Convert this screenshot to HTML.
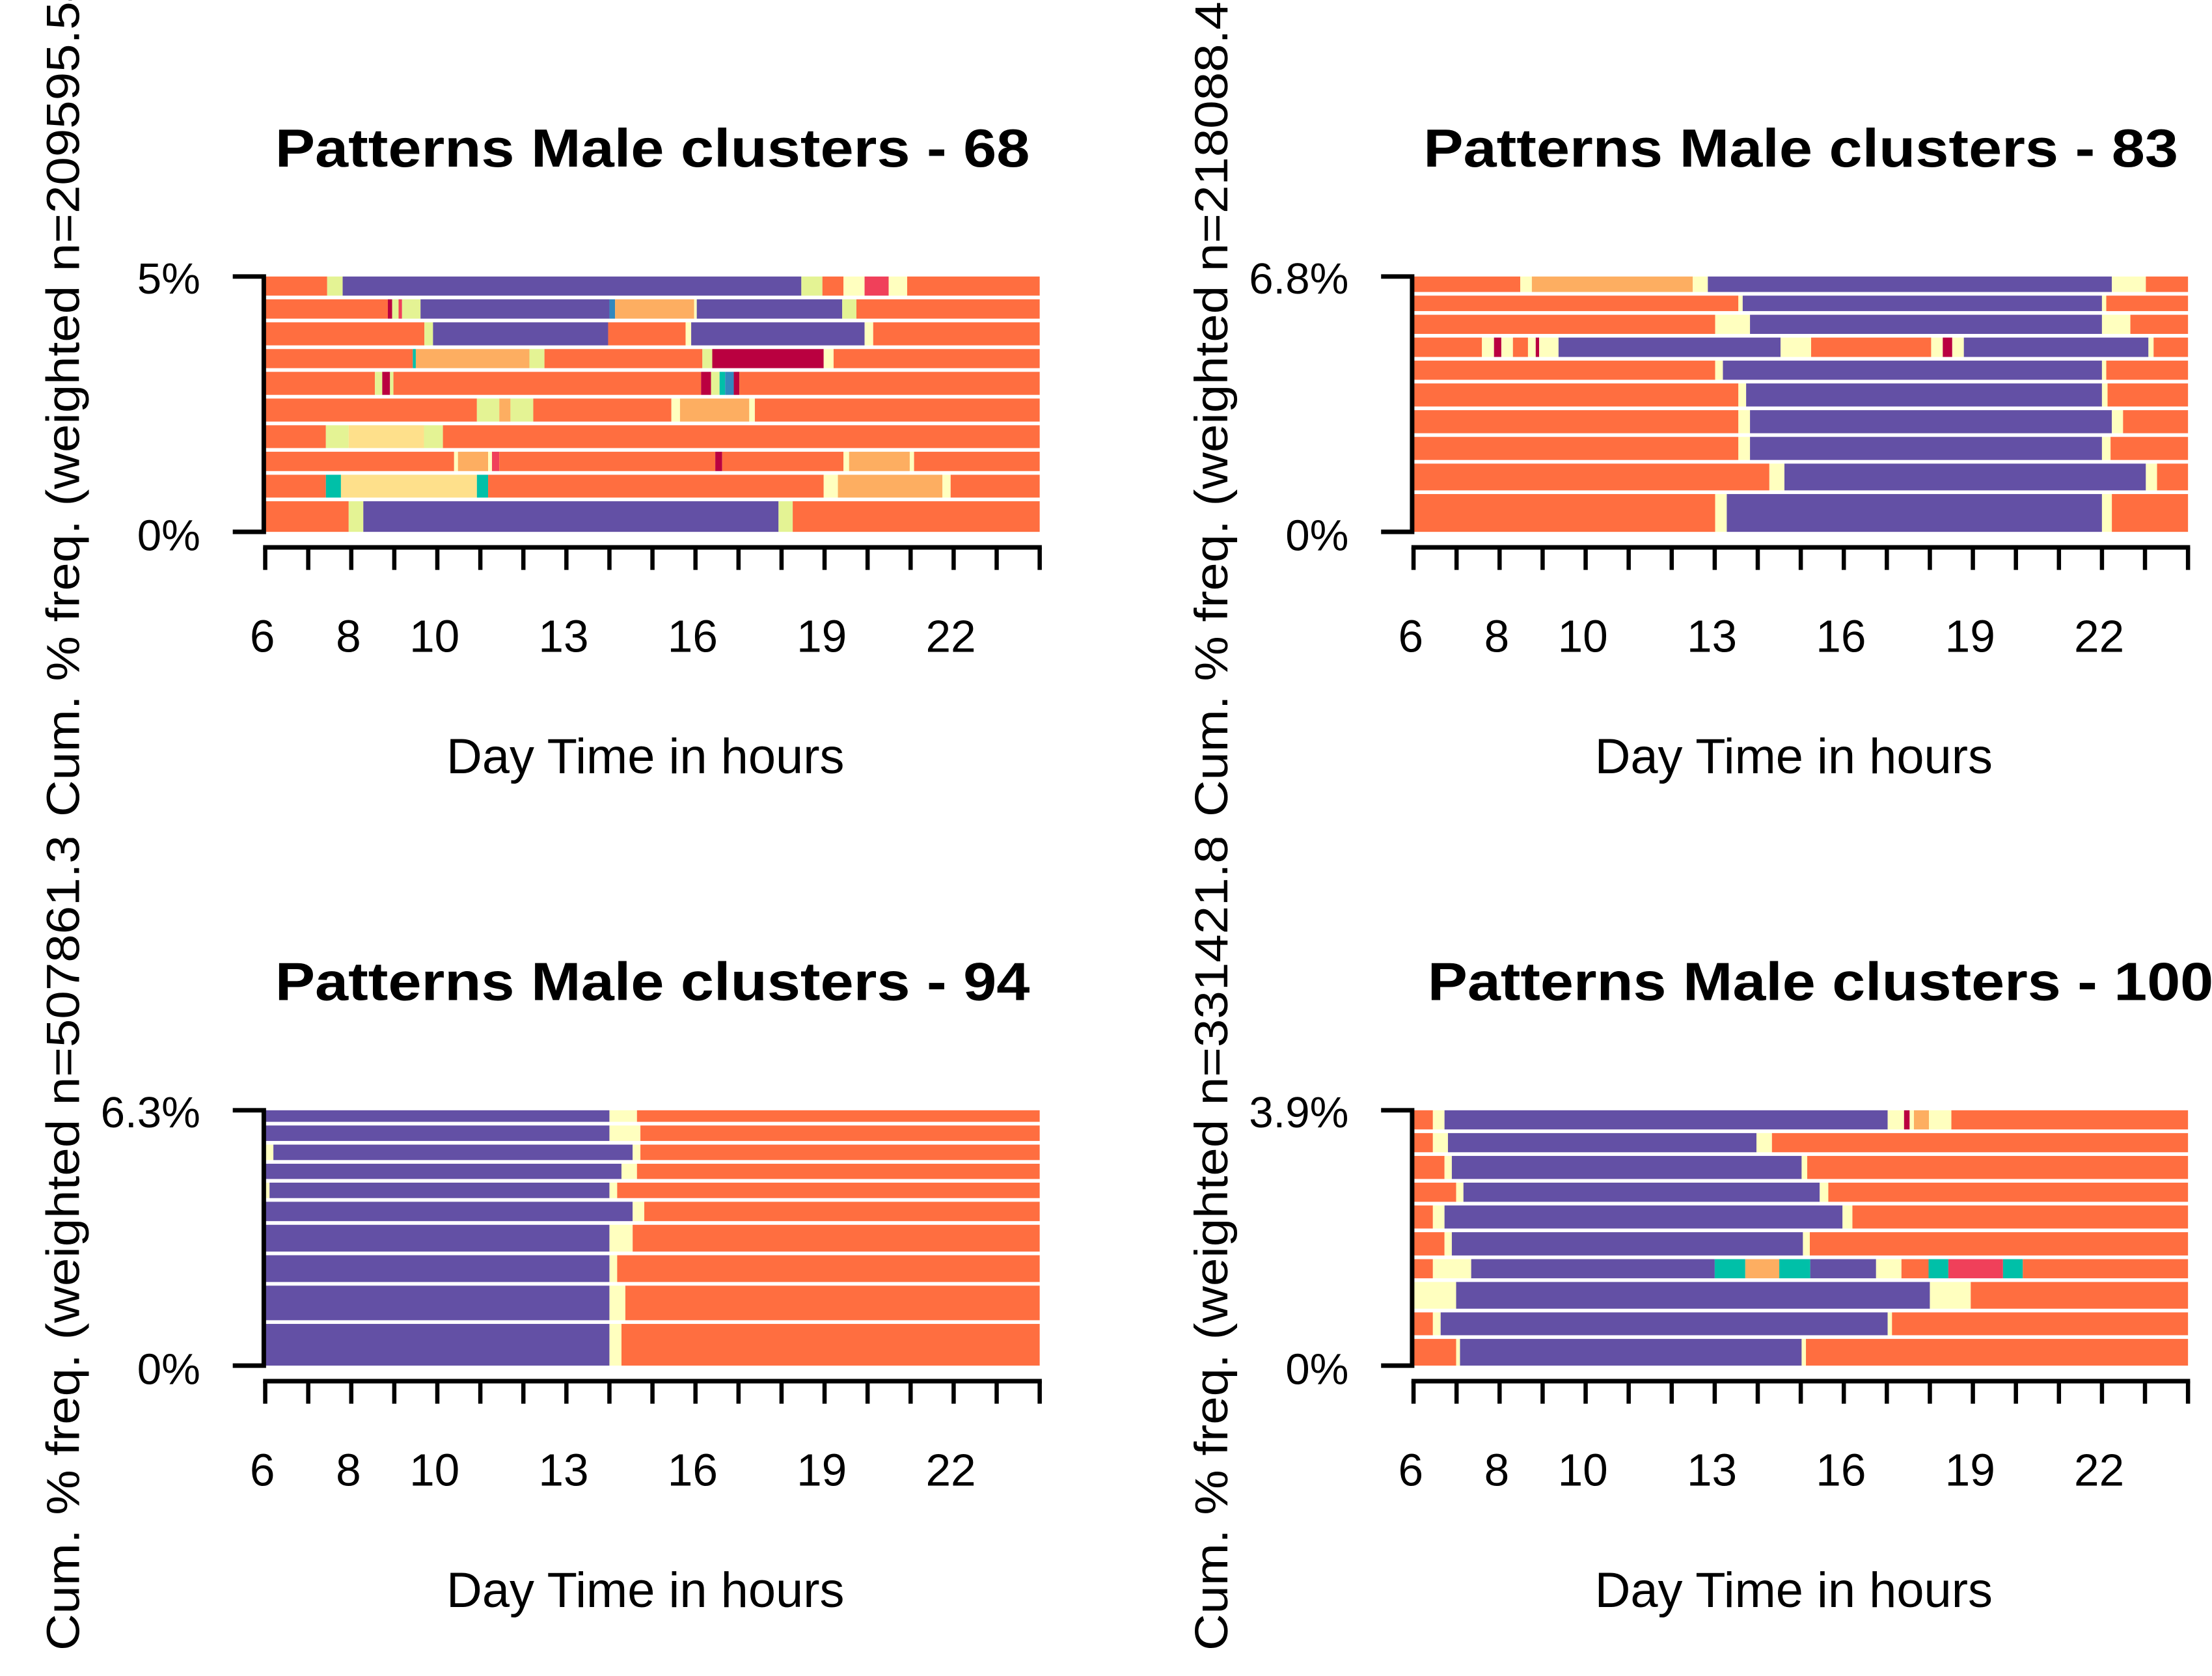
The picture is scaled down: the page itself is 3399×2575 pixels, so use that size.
<!DOCTYPE html>
<html><head><meta charset="utf-8">
<style>
html,body{margin:0;padding:0;background:#fff;}
svg{display:block;}
text{font-family:"Liberation Sans",Arial,sans-serif;fill:#000;}
</style></head>
<body>
<svg id="chart" width="3399" height="2575" viewBox="0 0 1568 1188" preserveAspectRatio="none" xmlns="http://www.w3.org/2000/svg">
<defs>
<clipPath id="clipTop"><rect x="0" y="0" width="1568" height="594"/></clipPath>
<clipPath id="clipBot"><rect x="0" y="594" width="1568" height="594"/></clipPath>
</defs>
</svg>
<script>
// ---- data ----
const colors = {O:'#FF6E40',P:'#6350A5',Y:'#FFFFBF',G:'#E4F394',F:'#FEE08B',L:'#FDAE61',D:'#BA0040',R:'#F0405A',T:'#00C0A8',B:'#3288BD'};
const titles = ['Patterns Male clusters - 68','Patterns Male clusters - 83','Patterns Male clusters - 94','Patterns Male clusters - 100'];
const topLabels = ['5%','6.8%','6.3%','3.9%'];
const yTitles = ['Cum. % freq. (weighted n=209595.54)','Cum. % freq. (weighted n=218088.49)','Cum. % freq. (weighted n=507861.39)','Cum. % freq. (weighted n=331421.89)'];
const xTicks = [6,7,8,9,10,11,12,13,14,15,16,17,18,19,20,21,22,23,24];
const xTickLabels = [6,8,10,13,16,19,22];

const weights1 = [105,106,123,105,123,123,122,106,122,141];
const weights2 = [88,88,105,106,105,123,123,123,140,174];
const weights3 = [70,88,88,87,88,106,140,140,176,192];
const weights4 = [105,105,123,105,123,124,105,140,122,123];

const rows1 = [
 [[7.44,'O'],[7.8,'G'],[18.46,'P'],[18.95,'G'],[19.44,'O'],[19.93,'Y'],[20.49,'R'],[20.92,'Y'],[24,'O']],
 [[8.85,'O'],[8.95,'D'],[9.1,'G'],[9.18,'R'],[9.61,'G'],[14.0,'P'],[14.13,'B'],[15.97,'L'],[16.03,'Y'],[19.41,'P'],[19.74,'G'],[24,'O']],
 [[9.7,'O'],[9.9,'G'],[13.97,'P'],[15.77,'O'],[15.9,'Y'],[19.93,'P'],[20.13,'Y'],[24,'O']],
 [[9.43,'O'],[9.5,'T'],[12.14,'L'],[12.49,'G'],[16.16,'O'],[16.39,'G'],[18.98,'D'],[19.21,'Y'],[24,'O']],
 [[8.55,'O'],[8.72,'G'],[8.9,'D'],[8.98,'G'],[16.13,'O'],[16.36,'D'],[16.56,'G'],[16.69,'T'],[16.89,'B'],[17.02,'D'],[24,'O']],
 [[10.92,'O'],[11.44,'G'],[11.7,'L'],[12.23,'G'],[15.44,'O'],[15.64,'Y'],[17.25,'L'],[17.38,'Y'],[24,'O']],
 [[7.41,'O'],[7.94,'G'],[9.69,'F'],[10.13,'G'],[24,'O']],
 [[10.39,'O'],[10.48,'Y'],[11.18,'L'],[11.27,'Y'],[11.44,'R'],[16.46,'O'],[16.62,'D'],[19.44,'O'],[19.57,'Y'],[20.98,'L'],[21.08,'Y'],[24,'O']],
 [[7.41,'O'],[7.76,'T'],[10.92,'F'],[11.18,'T'],[18.98,'O'],[19.31,'Y'],[21.74,'L'],[21.93,'Y'],[24,'O']],
 [[7.94,'O'],[8.28,'G'],[17.93,'P'],[18.26,'G'],[24,'O']]
];
const rows2 = [
 [[8.48,'O'],[8.75,'Y'],[12.49,'L'],[12.84,'Y'],[22.23,'P'],[23.02,'Y'],[24,'O']],
 [[13.55,'O'],[13.65,'Y'],[22.0,'P'],[22.1,'Y'],[24,'O']],
 [[13.01,'O'],[13.82,'Y'],[22.0,'P'],[22.66,'Y'],[24,'O']],
 [[7.59,'O'],[7.87,'Y'],[8.04,'D'],[8.31,'Y'],[8.66,'O'],[8.84,'Y'],[8.92,'D'],[9.37,'Y'],[14.53,'P'],[15.24,'Y'],[18.03,'O'],[18.3,'Y'],[18.52,'D'],[18.79,'Y'],[23.08,'P'],[23.2,'Y'],[24,'O']],
 [[13.01,'O'],[13.19,'Y'],[22.0,'P'],[22.1,'Y'],[24,'O']],
 [[13.55,'O'],[13.73,'Y'],[22.0,'P'],[22.13,'Y'],[24,'O']],
 [[13.55,'O'],[13.82,'Y'],[22.23,'P'],[22.49,'Y'],[24,'O']],
 [[13.55,'O'],[13.82,'Y'],[22.0,'P'],[22.2,'Y'],[24,'O']],
 [[14.27,'O'],[14.62,'Y'],[23.02,'P'],[23.28,'Y'],[24,'O']],
 [[13.01,'O'],[13.28,'Y'],[22.0,'P'],[22.23,'Y'],[24,'O']]
];
const rows3 = [
 [[14.0,'P'],[14.64,'Y'],[24,'O']],
 [[14.0,'P'],[14.72,'Y'],[24,'O']],
 [[6.19,'Y'],[14.54,'P'],[14.72,'Y'],[24,'O']],
 [[14.28,'P'],[14.64,'Y'],[24,'O']],
 [[6.1,'Y'],[14.0,'P'],[14.18,'Y'],[24,'O']],
 [[14.54,'P'],[14.81,'Y'],[24,'O']],
 [[14.0,'P'],[14.54,'Y'],[24,'O']],
 [[14.0,'P'],[14.18,'Y'],[24,'O']],
 [[14.0,'P'],[14.37,'Y'],[24,'O']],
 [[14.0,'P'],[14.28,'Y'],[24,'O']]
];
const rows4 = [
 [[6.45,'O'],[6.72,'Y'],[17.02,'P'],[17.4,'Y'],[17.53,'D'],[17.63,'Y'],[17.98,'L'],[18.5,'Y'],[24,'O']],
 [[6.45,'O'],[6.8,'Y'],[13.97,'P'],[14.33,'Y'],[24,'O']],
 [[6.72,'O'],[6.89,'Y'],[15.02,'P'],[15.15,'Y'],[24,'O']],
 [[6.99,'O'],[7.16,'Y'],[15.44,'P'],[15.64,'Y'],[24,'O']],
 [[6.45,'O'],[6.72,'Y'],[15.97,'P'],[16.2,'Y'],[24,'O']],
 [[6.72,'O'],[6.89,'Y'],[15.05,'P'],[15.21,'Y'],[24,'O']],
 [[6.45,'O'],[7.34,'Y'],[13.0,'P'],[13.71,'T'],[14.5,'L'],[15.22,'T'],[16.75,'P'],[17.34,'Y'],[17.97,'O'],[18.43,'T'],[19.7,'R'],[20.16,'T'],[24,'O']],
 [[6.99,'Y'],[18.0,'P'],[18.95,'Y'],[24,'O']],
 [[6.45,'O'],[6.63,'Y'],[17.02,'P'],[17.12,'Y'],[24,'O']],
 [[6.99,'O'],[7.08,'Y'],[15.02,'P'],[15.12,'Y'],[24,'O']]
];

// ---- layout ----
const panels = [
 {x0:188,x1:737,top:196,bot:377,rows:rows1,w:weights1,clip:'clipTop'},
 {x0:1002,x1:1551,top:196,bot:377,rows:rows2,w:weights2,clip:'clipTop'},
 {x0:188,x1:737,top:787,bot:968,rows:rows3,w:weights3,clip:'clipBot'},
 {x0:1002,x1:1551,top:787,bot:968,rows:rows4,w:weights4,clip:'clipBot'}
];
const NS='http://www.w3.org/2000/svg';
const svg=document.getElementById('chart');
function mk(tag,attrs,parent){const e=document.createElementNS(NS,tag);for(const k in attrs)e.setAttribute(k,attrs[k]);(parent||svg).appendChild(e);return e;}

panels.forEach((p,pi)=>{
  const g=mk('g',{});
  
  
  const xs=h=>p.x0+(h-6)/(24-6)*(p.x1-p.x0);
  const total=p.w.reduce((a,b)=>a+b,0);
  const H=p.bot-p.top, gap=2.6;
  let y=p.top;
  p.rows.forEach((row,ri)=>{
    const h=p.w[ri]/total*H;
    const last=ri===p.rows.length-1;
    const rh=last?(p.bot-y):(h-gap);
    let start=6;
    row.forEach(([end,c],si)=>{
      const r=mk('rect',{x:xs(start),y:y,width:Math.max(0,xs(end)-xs(start)),height:rh,fill:colors[c]},g);
      
      
      start=end;
    });
    y+=h;
  });
  const tl=p.x0-23;
  const ya=mk('path',{d:`M${tl} ${p.top} H${p.x0-1} V${p.bot} H${tl}`,fill:'none',stroke:'#000','stroke-width':3.2},g);
  
  
  const t1=mk('text',{x:p.x0-46,y:p.top+12,'font-size':31,'text-anchor':'end'},g);t1.textContent=topLabels[pi];
  
  
  const t0=mk('text',{x:p.x0-46,y:p.bot+13,'font-size':31,'text-anchor':'end'},g);t0.textContent='0%';
  
  
  const axY=p.bot+11;
  const xa=mk('line',{x1:xs(6)-1.5,x2:xs(24)+1.5,y1:axY,y2:axY,stroke:'#000','stroke-width':3.2},g);
  
  
  xTicks.forEach(t=>{
    const l=mk('line',{x1:xs(t),x2:xs(t),y1:axY,y2:axY+16,stroke:'#000','stroke-width':3},g);
    
    
  });
  xTickLabels.forEach(t=>{
    const tx=mk('text',{x:xs(t)-2,y:axY+74,'font-size':32,'text-anchor':'middle'},g);tx.textContent=t;
    
    
  });
  const xt=mk('text',{x:(p.x0+p.x1)/2-5,y:axY+160,'font-size':35,'text-anchor':'middle'},g);xt.textContent='Day Time in hours';
  
  
  const tt=mk('text',{x:(p.x0+p.x1)/2+(pi==3?14:0),y:p.top-78,'font-size':38,'font-weight':'bold','text-anchor':'middle',textLength:pi==3?557:535,lengthAdjust:'spacingAndGlyphs'},g);tt.textContent=titles[pi];
  
  
  const yx=p.x0-132, yb=p.bot+202;
  const cg=mk('g',{'clip-path':`url(#${p.clip})`},g);
  const yt=mk('text',{x:0,y:0,'font-size':33,textLength:610,lengthAdjust:'spacingAndGlyphs',transform:`translate(${yx},${yb}) rotate(-90)`},cg);yt.textContent=yTitles[pi];
  
  
});
</script>
</body></html>
